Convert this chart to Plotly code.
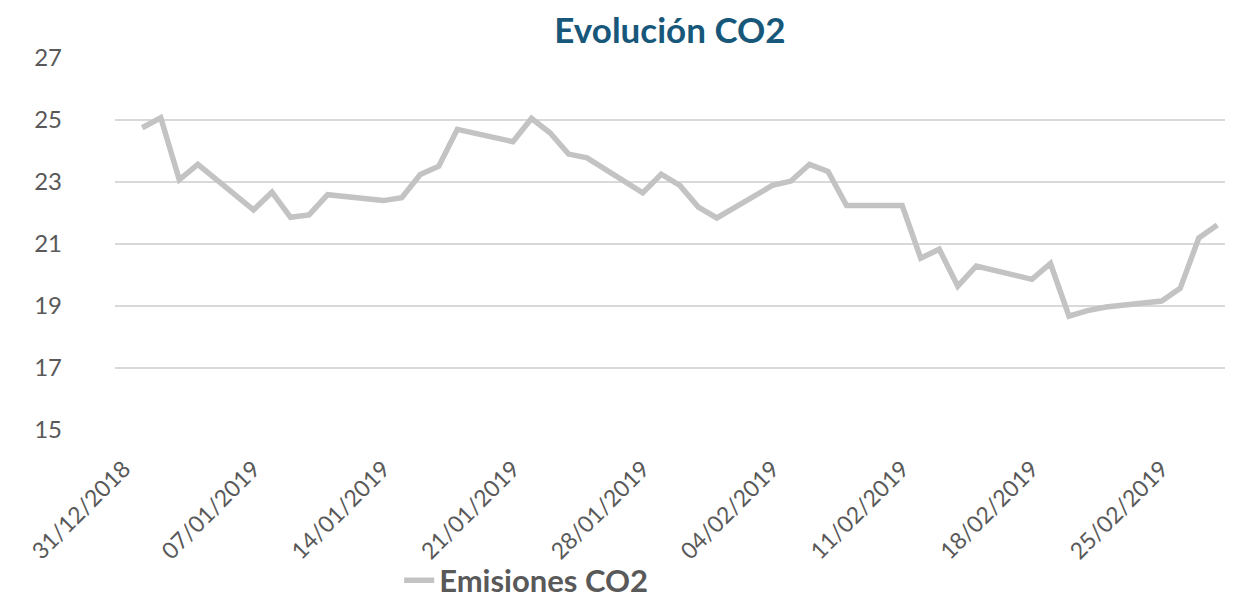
import plotly.graph_objects as go

dates = [
    "2019-01-01", "2019-01-02", "2019-01-03", "2019-01-04",
    "2019-01-07", "2019-01-08", "2019-01-09", "2019-01-10", "2019-01-11",
    "2019-01-14", "2019-01-15", "2019-01-16", "2019-01-17", "2019-01-18",
    "2019-01-21", "2019-01-22", "2019-01-23", "2019-01-24", "2019-01-25",
    "2019-01-28", "2019-01-29", "2019-01-30", "2019-01-31", "2019-02-01",
    "2019-02-04", "2019-02-05", "2019-02-06", "2019-02-07", "2019-02-08",
    "2019-02-11", "2019-02-12", "2019-02-13", "2019-02-14", "2019-02-15",
    "2019-02-18", "2019-02-19", "2019-02-20", "2019-02-21", "2019-02-22",
    "2019-02-25", "2019-02-26", "2019-02-27", "2019-02-28",
]
co2 = [
    24.75, 25.07, 23.07, 23.57,
    22.10, 22.67, 21.86, 21.94, 22.59,
    22.40, 22.49, 23.24, 23.51, 24.70,
    24.30, 25.05, 24.59, 23.90, 23.78,
    22.65, 23.25, 22.89, 22.19, 21.84,
    22.89, 23.03, 23.57, 23.34, 22.24,
    22.24, 20.54, 20.83, 19.64, 20.29,
    19.86, 20.37, 18.67, 18.85, 18.97,
    19.16, 19.57, 21.19, 21.61,
]
tick_dates = ["2018-12-31", "2019-01-07", "2019-01-14", "2019-01-21", "2019-01-28",
              "2019-02-04", "2019-02-11", "2019-02-18", "2019-02-25"]
tick_labels = ["31/12/2018", "07/01/2019", "14/01/2019", "21/01/2019", "28/01/2019",
               "04/02/2019", "11/02/2019", "18/02/2019", "25/02/2019"]
y_ticks = [15, 17, 19, 21, 23, 25, 27]

FONT = "Lato, 'Open Sans', sans-serif"
GRAY = "#595959"

fig = go.Figure()
fig.add_trace(go.Scatter(
    x=dates, y=co2, mode="lines", name="Emisiones CO2",
    line=dict(color="#c3c3c3", width=5.5),
))

fig.update_layout(
    width=1239, height=597,
    margin=dict(l=107, r=22, t=50, b=175, autoexpand=False),
    paper_bgcolor="white", plot_bgcolor="white",
    title=dict(text="<b>Evolución CO2</b>", x=0.5, xref="paper", xanchor="center",
               y=1 - 23 / 597, yref="container", yanchor="middle",
               font=dict(family=FONT, size=35, color="#17587a"), automargin=False),
    showlegend=True,
    legend=dict(orientation="h", x=0.256, xanchor="left", y=-0.405, yanchor="middle",
                font=dict(family=FONT, size=31, color=GRAY, weight="bold"),
                bgcolor="rgba(0,0,0,0)"),
    xaxis=dict(
        type="date", automargin=False,
        range=["2018-12-30 12:45", "2019-02-28 10:00"],
        tickvals=tick_dates, ticktext=tick_labels,
        tickangle=-45, tickfont=dict(family=FONT, size=23, color=GRAY),
        showgrid=False, showline=False, zeroline=False, ticks="",
        ticklabelstandoff=20,
    ),
    yaxis=dict(
        range=[15, 27], tickvals=y_ticks, automargin=False,
        tickfont=dict(family=FONT, size=24, color=GRAY),
        showgrid=True, gridcolor="#d9d9d9", gridwidth=1.5,
        zeroline=False, showline=False, ticks="",
        ticklabelstandoff=52,
    ),
)

fig.write_html("out.html")
